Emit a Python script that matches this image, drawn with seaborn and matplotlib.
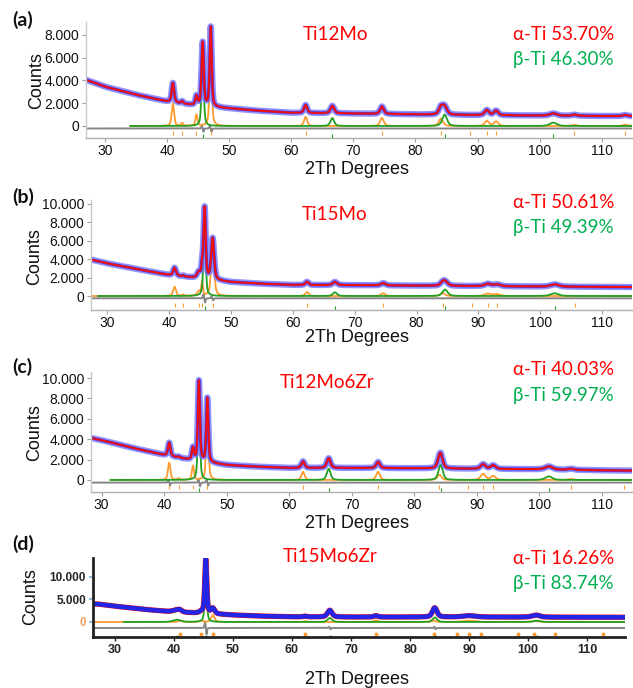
import numpy as np
import pandas as pd
import matplotlib
matplotlib.use("Agg")
import matplotlib.pyplot as plt
import seaborn as sns
from matplotlib.ticker import FuncFormatter

sns.set_theme(style="white")
plt.rcParams['font.family'] = ['Liberation Sans', 'DejaVu Sans']

W, H = 633, 688

# ---------------- data ----------------
panels = ["(a)", "(b)", "(c)", "(d)"]
samples = ["Ti12Mo", "Ti15Mo", "Ti12Mo6Zr", "Ti15Mo6Zr"]
alpha_pct = ["53.70%", "50.61%", "40.03%", "16.26%"]
beta_pct = ["46.30%", "49.39%", "59.97%", "83.74%"]

bg_x = [27, 30, 35, 40, 45, 50, 55, 60, 70, 80, 90, 100, 110, 117]
bg_a = [4040, 3450, 2750, 2150, 1760, 1550, 1330, 1160, 1100, 1020, 960, 920, 880, 860]
bg_b = [4020, 3550, 2900, 2280, 1900, 1520, 1330, 1200, 1180, 1130, 1080, 1030, 990, 960]
bg_c = [4300, 3900, 3140, 2450, 1860, 1470, 1300, 1180, 1180, 1150, 1100, 1050, 950, 900]
bg_d = [4000, 3500, 2800, 2200, 1900, 1550, 1300, 1150, 1100, 1100, 1100, 1080, 1060, 1050]

# alpha-Ti peaks: position, drawn component height, observed height above bg, FWHM
alpha_pos_a = [40.9, 42.4, 44.7, 47.0, 62.3, 74.6, 84.1, 91.5, 93.0, 105.6, 113.8]
alpha_h_a = [2000, 250, 1000, 8800, 800, 700, 650, 450, 400, 100, 120]
alpha_obs_a = [1700, 200, 800, 7000, 700, 650, 600, 450, 400, 100, 100]
alpha_w_a = [0.45, 0.4, 0.4, 0.38, 0.6, 0.7, 0.8, 0.8, 0.8, 0.9, 0.9]
beta_pos_a = [45.7, 66.6, 84.7, 102.2]
beta_h_a = [5800, 700, 1000, 300]
beta_obs_a = [5600, 650, 700, 200]
beta_w_a = [0.42, 0.7, 0.9, 1.3]

alpha_pos_b = [40.9, 42.3, 44.8, 45.35, 47.05, 62.3, 74.6, 84.2, 91.5, 93.0]
alpha_h_b = [1000, 150, 500, 1500, 5900, 430, 300, 300, 250, 200]
alpha_obs_b = [850, 100, 600, 1200, 4500, 350, 250, 250, 250, 200]
alpha_w_b = [0.55, 0.4, 0.6, 0.3, 0.55, 0.65, 0.8, 0.9, 1.2, 1.2]
beta_pos_b = [45.75, 66.8, 84.6, 102.3]
beta_h_b = [8500, 400, 700, 300]
beta_obs_b = [7700, 350, 450, 250]
beta_w_b = [0.4, 0.8, 1.0, 1.5]

alpha_pos_c = [40.8, 42.3, 44.6, 46.9, 62.2, 74.2, 84.0, 91.0, 92.6, 105.0]
alpha_h_c = [1700, 150, 1400, 8100, 800, 800, 500, 600, 400, 100]
alpha_obs_c = [1300, 100, 1200, 6300, 650, 600, 400, 450, 350, 100]
alpha_w_c = [0.45, 0.4, 0.4, 0.38, 0.6, 0.7, 0.8, 0.9, 0.9, 1.0]
beta_pos_c = [45.55, 66.3, 84.2, 101.5]
beta_h_c = [8800, 1100, 1500, 350]
beta_obs_c = [7900, 950, 1200, 300]
beta_w_c = [0.38, 0.7, 0.8, 1.3]

alpha_pos_d = [41.0, 44.6, 46.6, 62.2, 74.2, 84.0, 90.0, 101.0]
alpha_h_d = [300, 300, 1500, 200, 400, 300, 300, 200]
alpha_obs_d = [300, 300, 1200, 150, 300, 300, 300, 200]
alpha_w_d = [0.7, 0.7, 0.7, 0.7, 0.8, 0.8, 2.5, 1.5]
beta_pos_d = [40.5, 45.4, 66.4, 84.2, 101.5]
beta_h_d = [500, 11500, 900, 1000, 300]
beta_obs_d = [500, 12100, 1500, 1800, 300]
beta_w_d = [1.5, 0.4, 0.9, 0.9, 1.3]

# difference curve: offset and wiggles (position, amplitude)
diff_off = [-220, -250, -260, -1330]
diff_pos = [[45.7, 47.0], [45.7, 47.0], [40.8, 45.6, 46.9], [45.4, 66.4, 84.2]]
diff_amp = [[300, 300], [500, 250], [300, 400, 300], [1500, 300, 300]]

# reflection tick rows (y value) and extra alpha reflections
refl_alpha_y = [-650, -1000, -690, -2670]
refl_beta_y = [-900, -1300, -980, -3330]
extra_alpha = [[88.8], [88.9, 105.6], [88.5, 105.0, 113.5],
               [87.9, 92.0, 98.3, 104.6, 112.7]]

# curve start positions
green_start = [34.0, 28.5, 31.4, 31.5]
orange_start = [34.0, 27.4, 31.4, 26.3]

# axes geometry (pixel box: left, top, right, bottom) and limits
boxes = [(86, 22, 632, 138), (91, 200, 632, 310), (91, 372, 632, 492), (93, 558, 625, 637)]
xlims = [(26.9, 114.9), (27.4, 114.8), (28.3, 114.8), (26.3, 116.4)]
ylims = [(-1055, 9140), (-1520, 10430), (-1180, 10590), (-3330, 14200)]
yticks = [[0, 2000, 4000, 6000, 8000], [0, 2000, 4000, 6000, 8000, 10000],
          [0, 2000, 4000, 6000, 8000, 10000], [0, 5000, 10000]]
xticks = [30, 40, 50, 60, 70, 80, 90, 100, 110]

# text positions (pixels)
label_y = [20, 197, 367, 544]
sample_xy = [(303, 35), (302, 214), (280, 383), (283, 557)]
alpha_y = [35, 203, 370, 558]
beta_y = [60, 228, 395, 583]
xlabel_y = [169, 338, 523, 679]
ylabel_xy = [(37, 81), (35, 257), (35, 433), (31, 597)]

bgs = [bg_a, bg_b, bg_c, bg_d]
A = [(alpha_pos_a, alpha_h_a, alpha_obs_a, alpha_w_a), (alpha_pos_b, alpha_h_b, alpha_obs_b, alpha_w_b),
     (alpha_pos_c, alpha_h_c, alpha_obs_c, alpha_w_c), (alpha_pos_d, alpha_h_d, alpha_obs_d, alpha_w_d)]
B = [(beta_pos_a, beta_h_a, beta_obs_a, beta_w_a), (beta_pos_b, beta_h_b, beta_obs_b, beta_w_b),
     (beta_pos_c, beta_h_c, beta_obs_c, beta_w_c), (beta_pos_d, beta_h_d, beta_obs_d, beta_w_d)]

RED = "#ff0000"
GREEN_T = "#00b050"
ORANGE = "#ff9a2e"
GREEN = "#22a022"
GRAY = "#858585"


def pv(x, p, w):
    d = (x - p) / w
    return 0.5 * np.exp(-4 * np.log(2) * d * d) + 0.5 / (1 + 4 * d * d)


def fx(px):
    return px / W


def fy(py):
    return 1 - py / H


fmt = FuncFormatter(lambda v, _: f"{int(v):,}".replace(",", "."))

fig = plt.figure(figsize=(W / 100, H / 100), dpi=100)
x = np.arange(26.0, 117.0, 0.01)

for i in range(4):
    l, t, r, b = boxes[i]
    ax = fig.add_axes([fx(l), fy(b), (r - l) / W, (b - t) / H])
    bg = np.interp(x, bg_x, bgs[i])
    ap, ah, ao, aw = A[i]
    bp, bh, bo, bw = B[i]
    comp_a = sum(h * pv(x, p, w) for p, h, w in zip(ap, ah, aw))
    comp_b = sum(h * pv(x, p, w) for p, h, w in zip(bp, bh, bw))
    obs = bg + sum(h * pv(x, p, w) for p, h, w in zip(ap, ao, aw)) \
             + sum(h * pv(x, p, w) for p, h, w in zip(bp, bo, bw))
    diff = diff_off[i] + sum(a * (pv(x, p - 0.12, 0.2) - pv(x, p + 0.12, 0.2))
                             for p, a in zip(diff_pos[i], diff_amp[i]))

    df = pd.DataFrame({"x": x, "obs": obs, "a": comp_a, "b": comp_b, "diff": diff})
    dfa = df[df.x >= orange_start[i]]
    dfb = df[df.x >= green_start[i]]

    sns.lineplot(data=df, x="x", y="diff", ax=ax, color=GRAY, lw=1.4, estimator=None, sort=False)
    sns.lineplot(data=dfa, x="x", y="a", ax=ax, color=ORANGE, lw=1.3, estimator=None, sort=False)
    sns.lineplot(data=dfb, x="x", y="b", ax=ax, color=GREEN, lw=1.3, estimator=None, sort=False)
    if i < 3:
        sns.lineplot(data=df, x="x", y="obs", ax=ax, color="#7878ff", lw=4.6, alpha=0.8,
                     estimator=None, sort=False)
        sns.lineplot(data=df, x="x", y="obs", ax=ax, color="#3c3cff", lw=2.2,
                     estimator=None, sort=False)
        sns.lineplot(data=df, x="x", y="obs", ax=ax, color="#ee1010", lw=1.5,
                     estimator=None, sort=False)
    else:
        sns.lineplot(data=df, x="x", y="obs", ax=ax, color="#e81010", lw=3.8,
                     estimator=None, sort=False)
        sns.lineplot(data=df, x="x", y="obs", ax=ax, color="#2424e6", lw=3.2,
                     estimator=None, sort=False)

    # reflection markers
    apos = list(ap) + extra_alpha[i]
    if i < 3:
        span = (ylims[i][1] - ylims[i][0]) * 0.018
        ax.vlines(apos, refl_alpha_y[i] - span, refl_alpha_y[i] + span, color=ORANGE, lw=0.8)
        ax.vlines(bp, refl_beta_y[i] - span, refl_beta_y[i] + span, color=GREEN, lw=0.8)
    else:
        ax.plot(apos, [refl_alpha_y[i]] * len(apos), ls="none", marker="o", ms=1.8, color=ORANGE)
        ax.plot(bp, [refl_beta_y[i]] * len(bp), ls="none", marker="o", ms=1.8, color=GREEN)

    ax.set_xlim(*xlims[i])
    ax.set_ylim(*ylims[i])
    ax.set_xticks(xticks)
    ax.set_yticks(yticks[i])
    ax.yaxis.set_major_formatter(fmt)
    ax.set_xlabel("")
    ax.set_ylabel("")
    for s in ["top", "right"]:
        ax.spines[s].set_visible(False)
    if i < 3:
        ax.spines["left"].set_color("#c8c8c8")
        ax.spines["bottom"].set_color("#b0b0b0")
        ax.spines["left"].set_linewidth(1.0)
        ax.spines["bottom"].set_linewidth(1.0)
        ax.tick_params(axis="both", which="major", direction="out", length=3, width=0.8,
                       color="#a0a0a0", labelsize=10, labelcolor="#111111", pad=2,
                       bottom=True, left=True)
        ax.tick_params(axis="x", pad=1.5)
    else:
        ax.spines["left"].set_color("#222222")
        ax.spines["bottom"].set_color("#222222")
        ax.spines["left"].set_linewidth(2.0)
        ax.spines["bottom"].set_linewidth(2.0)
        ax.tick_params(axis="y", direction="out", length=3, width=1.5, color="#8fc3ea",
                       labelsize=8.5, pad=2, left=True)
        ax.tick_params(axis="x", direction="out", length=3, width=1.0, color="#222222",
                       labelsize=9, pad=2, bottom=True)
        for lab in ax.get_xticklabels() + ax.get_yticklabels():
            lab.set_fontweight("bold")
        ax.get_yticklabels()[0].set_color("#f0a060")
    ax.patch.set_alpha(0)

    # texts
    fig.text(fx(12), fy(label_y[i]), panels[i], family=["Lato", "DejaVu Sans"],
             fontweight="bold", fontsize=14, va="center", ha="left", color="#111111")
    fig.text(fx(sample_xy[i][0]), fy(sample_xy[i][1]), samples[i], family=["Lato", "DejaVu Sans"],
             fontsize=13.5, color=RED, va="center", ha="left")
    fig.text(fx(614), fy(alpha_y[i]), "α-Ti " + alpha_pct[i], family=["Lato", "DejaVu Sans"],
             fontsize=13.5, color=RED, va="center", ha="right")
    fig.text(fx(614), fy(beta_y[i]), "β-Ti " + beta_pct[i], family=["Lato", "DejaVu Sans"],
             fontsize=13.5, color=GREEN_T, va="center", ha="right")
    fig.text(fx(357), fy(xlabel_y[i]), "2Th Degrees", fontsize=13, va="center",
             ha="center", color="#111111")
    fig.text(fx(ylabel_xy[i][0]), fy(ylabel_xy[i][1]), "Counts", fontsize=13, rotation=90,
             va="center", ha="center", color="#111111")

fig.savefig("out.png", dpi=100, facecolor="white")
